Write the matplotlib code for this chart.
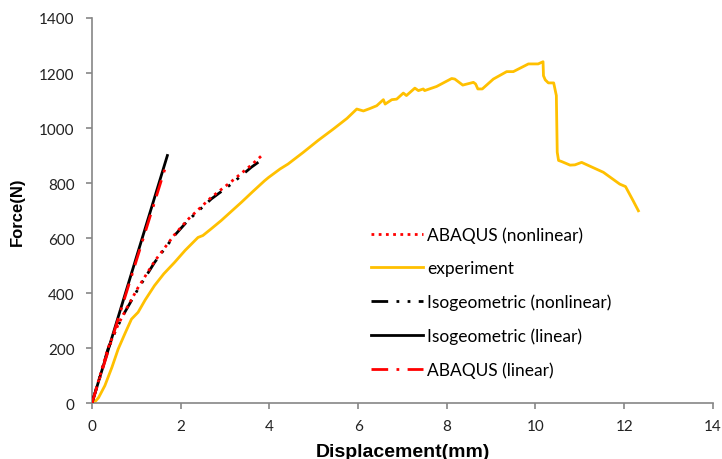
import matplotlib.pyplot as plt

# experiment curve
exp_x = [0.0, 0.06, 0.15, 0.29, 0.45, 0.59, 0.75, 0.89, 1.04, 1.2, 1.41, 1.62, 1.86, 2.1, 2.39, 2.5, 2.7,
         2.91, 3.15, 3.37, 3.62, 3.89, 3.98, 4.24, 4.42, 4.76, 5.1, 5.44, 5.75, 5.97, 6.12, 6.27, 6.42,
         6.57, 6.61, 6.76, 6.87, 7.02, 7.09, 7.28, 7.36, 7.47, 7.50, 7.77, 8.11, 8.18, 8.36, 8.60, 8.65,
         8.70, 8.80, 9.05, 9.35, 9.50, 9.84, 10.06, 10.17, 10.18, 10.22, 10.29, 10.41, 10.47, 10.49,
         10.52, 10.59, 10.78, 10.89, 11.04, 11.23, 11.53, 11.90, 12.03, 12.20, 12.32]
exp_y = [0, 3, 20, 63, 130, 196, 255, 305, 330, 375, 427, 470, 511, 555, 602, 609, 635,
         663, 698, 730, 768, 808, 820, 851, 869, 911, 955, 996, 1035, 1069, 1062, 1071, 1081,
         1103, 1087, 1103, 1105, 1127, 1118, 1145, 1136, 1142, 1136, 1151, 1180, 1178, 1156, 1166, 1160,
         1142, 1142, 1178, 1205, 1205, 1233, 1233, 1241, 1190, 1175, 1164, 1164, 1118, 912,
         882, 878, 865, 866, 875, 861, 839, 796, 787, 736, 699]

# Isogeometric (nonlinear)
iga_nl_x = [0.0, 0.2, 0.36, 0.55, 0.74, 1.04, 1.41, 1.86, 2.16, 2.69, 3.14, 3.59, 3.9]
iga_nl_y = [0, 108, 196, 270, 330, 415, 511, 609, 663, 742, 796, 857, 893]

# ABAQUS (nonlinear)
abq_nl_x = [0.0, 0.2, 0.36, 0.59, 0.8, 1.04, 1.41, 1.86, 2.16, 2.69, 3.14, 3.59, 3.85]
abq_nl_y = [0, 110, 200, 285, 350, 420, 515, 612, 667, 748, 805, 865, 903]

# linear results
iga_lin_x = [0.0, 1.70]
iga_lin_y = [0, 900]
abq_lin_x = [0.0, 1.68]
abq_lin_y = [0, 870]

fig = plt.figure(figsize=(7.22, 4.6), dpi=100)
ax = fig.add_axes([0.1274, 0.1217, 0.86, 0.837])

gold = '#FFC000'
ax.plot(abq_nl_x, abq_nl_y, color='red', linestyle=(0, (1, 1.6)), linewidth=2,
        label='ABAQUS (nonlinear)', zorder=4)
ax.plot(exp_x, exp_y, color=gold, linewidth=2, label='experiment', zorder=2)
ax.plot(iga_nl_x, iga_nl_y, color='black', linestyle=(0, (6, 3, 1, 3, 1, 3)), linewidth=2,
        label='Isogeometric (nonlinear)', zorder=3)
ax.plot(iga_lin_x, iga_lin_y, color='black', linewidth=2, label='Isogeometric (linear)', zorder=3)
ax.plot(abq_lin_x, abq_lin_y, color='red', linestyle=(0, (6, 3, 1, 3)), linewidth=2,
        label='ABAQUS (linear)', zorder=4)

ax.set_xlim(0, 14)
ax.set_ylim(0, 1400)
ax.set_xticks(range(0, 15, 2))
ax.set_yticks(range(0, 1401, 200))

for s in ['top', 'right']:
    ax.spines[s].set_visible(False)
for s in ['left', 'bottom']:
    ax.spines[s].set_color('#868686')
    ax.spines[s].set_linewidth(1.2)
ax.tick_params(direction='out', length=4.5, width=1.2, color='#868686',
               labelsize=11, labelcolor='#222222')
for lab in ax.get_xticklabels() + ax.get_yticklabels():
    lab.set_family('Lato')
ax.tick_params(axis='x', pad=7)
ax.tick_params(axis='y', pad=8)

ax.set_xlabel('Displacement(mm)', fontsize=14, fontweight='bold', family='Liberation Sans', labelpad=7)
ax.set_ylabel('Force(N)', fontsize=12, fontweight='bold', family='Liberation Sans', labelpad=10)

ax.legend(loc='upper left', bbox_to_anchor=(0.424, 0.50), frameon=False,
          prop={'family': 'Lato', 'size': 12.5}, handlelength=3.0, labelspacing=1.0,
          handletextpad=0.25)

fig.savefig('out.png', dpi=100)
